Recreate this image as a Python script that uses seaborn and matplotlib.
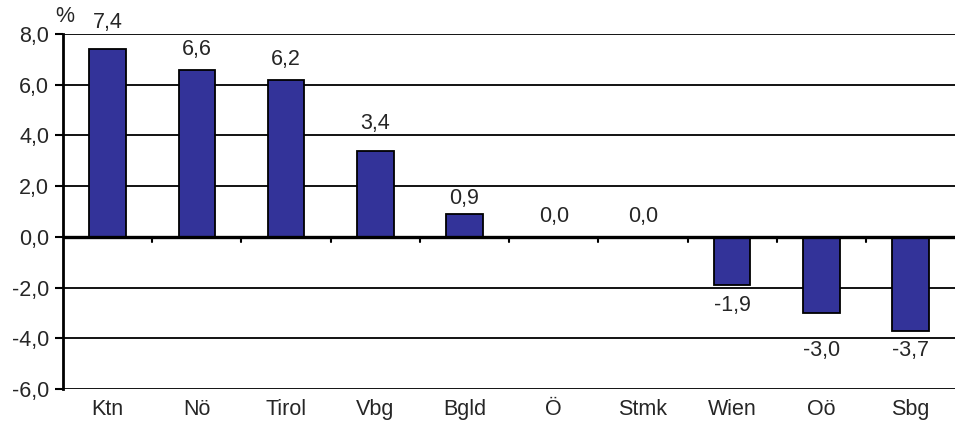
import numpy as np
import pandas as pd
import matplotlib.pyplot as plt
import seaborn as sns

# data
regions = ['Ktn', 'Nö', 'Tirol', 'Vbg', 'Bgld', 'Ö', 'Stmk', 'Wien', 'Oö', 'Sbg']
values = [7.4, 6.6, 6.2, 3.4, 0.9, 0.0, 0.0, -1.9, -3.0, -3.7]
yticks = [-6, -4, -2, 0, 2, 4, 6, 8]

sns.set_theme(style='white')
plt.rcParams['font.family'] = ['Liberation Sans', 'DejaVu Sans']

df = pd.DataFrame({'region': regions, 'value': values})

fig = plt.figure(figsize=(9.6, 4.29), dpi=100)
ax = fig.add_axes([0.0656, 0.0932, 0.9294, 0.8275])

sns.barplot(data=df, x='region', y='value', color='#333399', width=0.41,
            edgecolor='black', linewidth=1.3, saturation=1, ax=ax, zorder=3)

fs = 15.5
ax.set_ylim(-6, 8)
ax.set_xlim(-0.5, len(regions) - 0.5)
ax.set_yticks(yticks)
ax.set_yticklabels([f'{t:.1f}'.replace('.', ',') for t in yticks], fontsize=fs)
ax.tick_params(axis='x', labelsize=fs, length=0, pad=7)
ax.tick_params(axis='y', length=6, width=1.5, color='black', left=True, pad=4)
ax.set_xlabel('')
ax.set_ylabel('')

# grid lines
for t in yticks:
    if t != 0:
        ax.axhline(t, color='black', lw=1.3, zorder=1)
ax.axhline(0, color='black', lw=2.4, zorder=4)
# small category separator ticks under zero line
for i in range(1, len(regions)):
    ax.plot([i - 0.5, i - 0.5], [0, -0.2], color='black', lw=1.5, zorder=4)

for s in ['top', 'right', 'bottom']:
    ax.spines[s].set_visible(False)
ax.spines['left'].set_color('black')
ax.spines['left'].set_linewidth(2)

# value labels: ~20 px from the bar end, moved off a grid line if they touch it
ppu = ax.get_window_extent().height / (8 - (-6))  # pixels per unit
for i, v in enumerate(values):
    lab = f'{v:.1f}'.replace('.', ',')
    sgn = 1 if v >= 0 else -1
    y = v + sgn * 20 / ppu
    for t in yticks:
        if t != 0 and abs(y - t) * ppu < 11:
            cands = [t + 12 / ppu, t - 12 / ppu]
            cands = [c for c in cands if sgn * (c - v) * ppu >= 15]
            y = min(cands, key=lambda c: abs(c - y))
    ax.text(i, y, lab, ha='center', va='center', fontsize=fs, clip_on=False, zorder=5)

fig.text(0.058, 0.962, '%', fontsize=fs, ha='left', va='center')

fig.savefig('out.png', dpi=100)
